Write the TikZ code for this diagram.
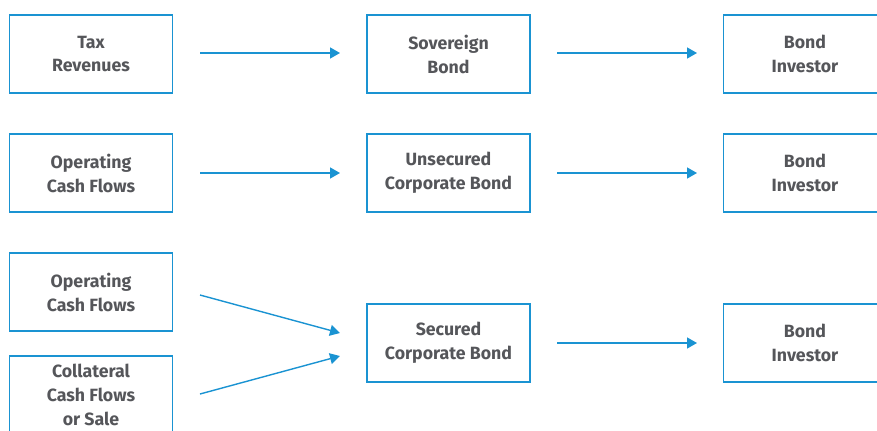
\documentclass[tikz,border=0pt]{standalone}
\usepackage{fontspec}
\setmainfont{Fira Sans}
\usetikzlibrary{arrows.meta}
\definecolor{bblue}{HTML}{1A93D2}
\definecolor{tgrey}{HTML}{55565A}
\tikzset{
  box/.style={draw=bblue, line width=1.5bp, minimum width=163bp, minimum height=78bp, inner sep=0pt, align=center, font=\fontsize{17.8}{24}\selectfont\bfseries, text=tgrey},
  thickbox/.style={box, line width=2.3bp},
  arr/.style={draw=bblue, line width=1.4bp, -{Triangle[length=10bp,width=11bp]}}
}
\begin{document}
\begin{tikzpicture}[x=1bp,y=-1bp]
\useasboundingbox (0,0) rectangle (877,430);
\begin{scope}
\clip (0,0) rectangle (877,430);
% left column
\node[box] (tax) at (91,54) {Tax\\Revenues};
\node[box] (op1) at (91,173) {Operating\\Cash Flows};
\node[box] (op2) at (91,292) {Operating\\Cash Flows};
\node[box, anchor=north, text depth=0pt] (col) at (91,355) {\rule{0pt}{9bp}Collateral\\Cash Flows\\or Sale};
% middle column
\node[box] (sov) at (448.5,54) {Sovereign\\Bond};
\node[box] (uns) at (448.5,173) {Unsecured\\Corporate Bond};
\node[thickbox] (sec) at (448.5,343) {Secured\\Corporate Bond};
% right column
\node[box] (inv1) at (805,54) {Bond\\Investor};
\node[box] (inv2) at (805,173) {Bond\\Investor};
\node[box] (inv3) at (805,343) {Bond\\Investor};
\end{scope}
% arrows
\coordinate (a1s) at (200,53); \coordinate (a1e) at (340,53);
\coordinate (b1s) at (557,53); \coordinate (b1e) at (697,53);
\coordinate (a2s) at (200,173); \coordinate (a2e) at (340,173);
\coordinate (b2s) at (557,173); \coordinate (b2e) at (697,173);
\coordinate (a3s) at (200,295); \coordinate (a3e) at (340,333);
\coordinate (a4s) at (200,394); \coordinate (a4e) at (340,356);
\coordinate (b3s) at (557,343); \coordinate (b3e) at (697,343);
\draw[arr] (a1s) -- (a1e);
\draw[arr] (b1s) -- (b1e);
\draw[arr] (a2s) -- (a2e);
\draw[arr] (b2s) -- (b2e);
\draw[arr] (a3s) -- (a3e);
\draw[arr] (a4s) -- (a4e);
\draw[arr] (b3s) -- (b3e);
\end{tikzpicture}
\end{document}
